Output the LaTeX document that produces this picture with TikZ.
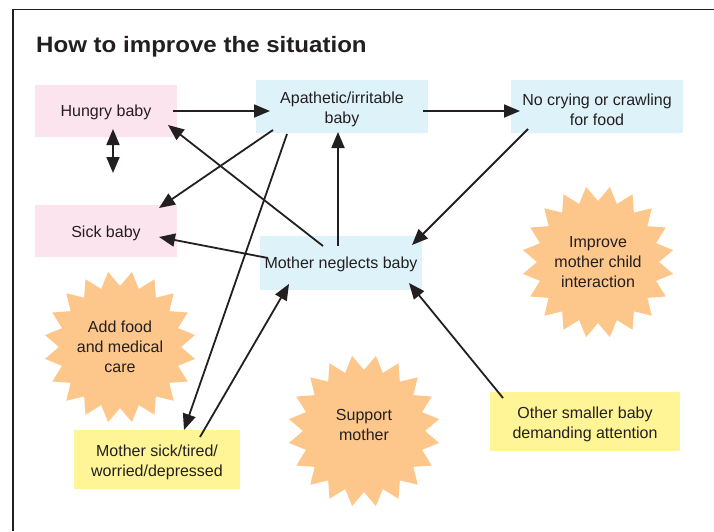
\documentclass[tikz,border=0pt]{standalone}
\usepackage{fontspec}
\setmainfont{Liberation Sans}
\newfontfamily\titlefont[FakeStretch=1.08]{Liberation Sans}
\usetikzlibrary{arrows.meta,calc}
\definecolor{pinkbox}{RGB}{252,228,238}
\definecolor{bluebox}{RGB}{222,242,250}
\definecolor{yellowbox}{RGB}{255,245,150}
\definecolor{starfill}{RGB}{253,198,138}
\definecolor{textgray}{RGB}{35,31,32}
\begin{document}
\begin{tikzpicture}[x=1pt,y=-1pt,
  text=textgray,
  box/.style={inner sep=0pt},
  pinkb/.style={box, fill=pinkbox},
  blueb/.style={box, fill=bluebox},
  yellowb/.style={box, fill=yellowbox},
  boxtext/.style={inner sep=0pt, align=center, font=\fontsize{16}{20}\selectfont},
  startext/.style={inner sep=0pt, align=center, font=\fontsize{16}{20}\selectfont},
  arr/.style={line width=1.8pt, draw=textgray, -{Triangle[length=16pt,width=13pt]}},
  dblarr/.style={line width=1.8pt, draw=textgray, {Triangle[length=16pt,width=13pt]}-{Triangle[length=16pt,width=13pt]}},
  burst/.pic={\fill[starfill] (9:76) \foreach \k in {0,...,19}{ -- ({18+18*\k}:61) -- ({27+18*\k}:76)} -- cycle;}
]
\useasboundingbox (0,0) rectangle (714,531);
% frame
\draw[line width=1.5pt, textgray] (13,531) -- (13,9.5) -- (714,9.5);
% title
\node[anchor=base west, inner sep=0pt, font=\titlefont\bfseries\fontsize{22.3}{26}\selectfont] (title) at (36,52) {How to improve the situation};
% starbursts
\pic at (120,347) {burst};
\pic at (364,431) {burst};
\pic at (598,262) {burst};
\node[startext] (addfood) at (120,347) {Add food\\and medical\\care};
\node[startext] (support) at (364,425) {Support\\mother};
\node[startext] (improve) at (598,262.5) {Improve\\mother child\\interaction};
% boxes
\node[pinkb, minimum width=142pt, minimum height=52pt] (hungry) at (106,110.5) {};
\node[blueb, minimum width=172pt, minimum height=53pt] (apath) at (342,106.5) {};
\node[blueb, minimum width=172pt, minimum height=53pt] (nocry) at (597,106.5) {};
\node[pinkb, minimum width=142pt, minimum height=52pt] (sick) at (106,231) {};
\node[blueb, minimum width=162pt, minimum height=54pt] (neglect) at (341,263) {};
\node[yellowb, minimum width=166pt, minimum height=59pt] (msick) at (157,459.5) {};
\node[yellowb, minimum width=190pt, minimum height=59pt] (other) at (585,421.5) {};
% box texts
\node[boxtext] (hungrylbl) at ($(hungry.center)+(0,2)$) {Hungry baby};
\node[boxtext] (apathlbl) at ($(apath.center)+(0,3)$) {Apathetic/irritable\\baby};
\node[boxtext] (nocrylbl) at ($(nocry.center)+(0,3)$) {No crying or crawling\\for food};
\node[boxtext] (sicklbl) at ($(sick.center)+(0,2.5)$) {Sick baby};
\node[boxtext] (neglectlbl) at ($(neglect.center)+(0,1)$) {Mother neglects baby};
\node[boxtext] (msicklbl) at ($(msick.center)+(0,3)$) {Mother sick/tired/\\worried/depressed};
\node[boxtext] (otherlbl) at ($(other.center)+(0,3)$) {Other smaller baby\\demanding attention};
% free ends of the double arrow
\coordinate (d1) at (113,129);
\coordinate (d2) at (113,173);
% connectors
\draw[arr] ($(hungry.center)+(67,0.5)$) -- ($(apath.center)+(-72,4.5)$);
\draw[dblarr] (d1) -- (d2);
\draw[arr] ($(apath.center)+(81,4.5)$) -- ($(nocry.center)+(-77,4.5)$);
\draw[arr] ($(apath.center)+(-69,23.5)$) -- ($(sick.center)+(53,-23)$);
\draw[arr] ($(neglect.center)+(-18,-17)$) -- ($(hungry.center)+(62,14.5)$);
\draw[arr] ($(neglect.center)+(-73,-5)$) -- ($(sick.center)+(53,6)$);
\draw[arr] ($(neglect.center)+(-3,-17)$) -- ($(apath.center)+(-4,25.5)$);
\draw[arr] ($(nocry.center)+(-69,22.5)$) -- ($(neglect.center)+(71,-18)$);
\draw[arr] ($(apath.center)+(-55,27.5)$) -- ($(msick.center)+(27,-29.5)$);
\draw[arr] ($(msick.center)+(43,-22.5)$) -- ($(neglect.center)+(-52,21)$);
\draw[arr] ($(other.center)+(-82,-23.5)$) -- ($(neglect.center)+(68,20)$);
\end{tikzpicture}
\end{document}
